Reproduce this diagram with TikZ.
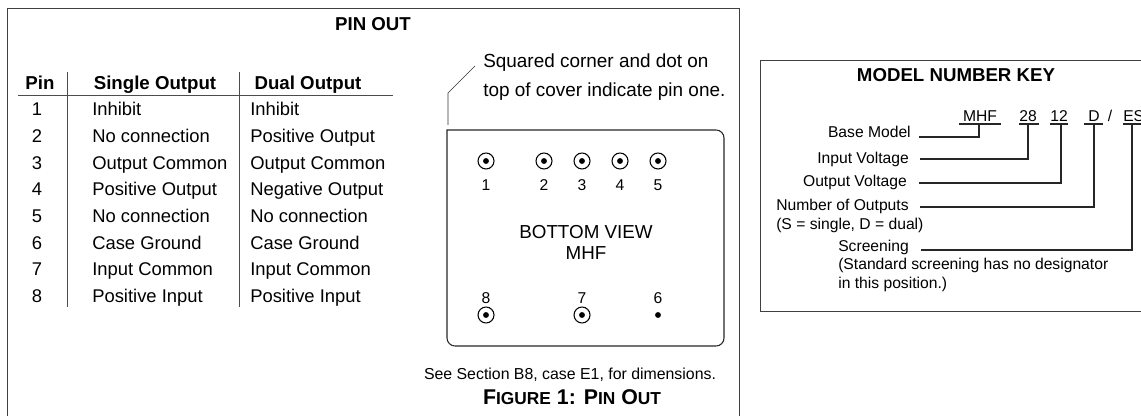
\documentclass[tikz,border=0pt]{standalone}
\usepackage{fontspec}
\setmainfont{Liberation Sans}
\tikzset{
  lbl/.style={inner sep=0pt,text height=9.5pt,text depth=0pt,font=\fontsize{13.8}{15}\selectfont},
  lbll/.style={lbl,anchor=west},
  keylbl/.style={lbl,font=\fontsize{11.75}{13}\selectfont},
  hdr/.style={lbl,font=\fontsize{14}{15}\selectfont\bfseries},
  boxline/.style={line width=0.7pt,draw=black!75},
  tabline/.style={line width=0.7pt,draw=black!70},
  keyline/.style={line width=0.9pt,draw=black!85},
  pinring/.style={circle,draw=black,line width=0.8pt,minimum size=12pt,inner sep=0pt},
  pindot/.style={circle,fill=black,minimum size=4.4pt,inner sep=0pt}
}
\begin{document}
\begin{tikzpicture}[x=0.75pt,y=-0.75pt]
    \useasboundingbox (0,0) rectangle (1141,416);

    % pin out frame
    \coordinate (fa) at (7.5,416);
    \coordinate (fb) at (7.5,8);
    \coordinate (fc) at (739,8);
    \coordinate (fd) at (739,416);
    \draw[boxline] (fa) -- (fb) -- (fc) -- (fd);
    \node[hdr] (title) at (373,24) {PIN OUT};

    % table
    \node[hdr] (hpin) at (40,83) {Pin};
    \node[hdr] (hsingle) at (155,83) {Single Output};
    \node[hdr] (hdual) at (308,83) {Dual Output};

    \coordinate (va) at (67,72);
    \coordinate (vb) at (67,307);
    \coordinate (vc) at (239,72);
    \coordinate (vd) at (239,307);
    \coordinate (ha) at (18,95);
    \coordinate (hb) at (393,95);
    \draw[tabline] (va) -- (vb);
    \draw[tabline] (vc) -- (vd);
    \draw[tabline] (ha) -- (hb);

    \foreach \n/\y/\s/\d in {1/109/Inhibit/Inhibit,
        2/136/No connection/Positive Output,
        3/163/Output Common/Output Common,
        4/189/Positive Output/Negative Output,
        5/216/No connection/No connection,
        6/243/Case Ground/Case Ground,
        7/269/Input Common/Input Common,
        8/296/Positive Input/Positive Input} {
      \node[lbl] (p\n) at (37,\y) {\n};
      \node[lbll] (s\n) at (92,\y) {\s};
      \node[lbll] (d\n) at (250,\y) {\d};
    }

    % bottom view
    \node[lbll,font=\fontsize{14.2}{15}\selectfont] (note1) at (483,61) {Squared corner and dot on};
    \node[lbll,font=\fontsize{14.2}{15}\selectfont] (note2) at (483,90) {top of cover indicate pin one.};
    \coordinate (la) at (475,66);
    \coordinate (lb) at (448,93);
    \coordinate (lc) at (448,125);
    \draw[line width=0.5pt,draw=black!80] (la) -- (lb) -- (lc);

    \coordinate (ba) at (447,130);
    \coordinate (bb) at (724,130);
    \coordinate (bc) at (724,346);
    \coordinate (bd) at (447,346);
    \draw[line width=0.8pt,draw=black!85,rounded corners=6pt,line cap=rect] (ba) -- (bb) -- (bc) -- (bd) -- (ba);

    \foreach \n/\x in {1/486,2/544,3/582,4/620,5/658} {
      \node[pinring] (c\n) at (\x,161) {};
      \node[pindot] at (c\n) {};
      \node[keylbl] (t\n) at (\x,184) {\n};
    }
    \foreach \n/\x in {8/486,7/582} {
      \node[pinring] (c\n) at (\x,315) {};
      \node[pindot] at (c\n) {};
      \node[keylbl] (t\n) at (\x,297) {\n};
    }
    \node[pindot] (c6) at (658,315) {};
    \node[keylbl] (t6) at (658,297) {6};

    \node[lbl,font=\fontsize{14.1}{15}\selectfont] (view1) at (586,232) {BOTTOM VIEW};
    \node[lbl,font=\fontsize{14.1}{15}\selectfont] (view2) at (586,253) {MHF};

    \node[keylbl,font=\fontsize{11.9}{13}\selectfont] (see) at (570,373) {See Section B8, case E1, for dimensions.};
    \node[hdr,font=\fontsize{16}{17}\selectfont\bfseries] (fig) at (572,398) {F{\fontsize{13}{14}\selectfont IGURE} 1: P{\fontsize{13}{14}\selectfont IN} O{\fontsize{13}{14}\selectfont UT}};

    % model number key
    \coordinate (ka) at (1141,60);
    \coordinate (kb) at (760,60);
    \coordinate (kc) at (760,311);
    \coordinate (kd) at (1141,311);
    \draw[boxline] (ka) -- (kb) -- (kc) -- (kd);
    \node[hdr] (keytitle) at (956,75) {MODEL NUMBER KEY};

    \node[keylbl] (mhf) at (980,115) {MHF};
    \node[keylbl] (v28) at (1028,115) {28};
    \node[keylbl] (v12) at (1059,115) {12};
    \node[keylbl] (vd) at (1094,115) {D};
    \node[keylbl] (vs) at (1110,115) {/};
    \node[keylbl,anchor=west] (ves) at (1123,115) {ES};

    \coordinate (u1a) at (959,124);
    \coordinate (u1b) at (1001,124);
    \coordinate (u2a) at (1019,124);
    \coordinate (u2b) at (1039,124);
    \coordinate (u3a) at (1050,124);
    \coordinate (u3b) at (1068,124);
    \coordinate (u4a) at (1084,124);
    \coordinate (u4b) at (1103,124);
    \coordinate (u5a) at (1123,124);
    \coordinate (u5b) at (1141,124);
    \foreach \u in {1,...,5}
      \draw[keyline] (u\u a) -- (u\u b);

    \node[keylbl,anchor=east] (kbase) at (911,131) {Base Model};
    \node[keylbl,anchor=east] (kin) at (909,157) {Input Voltage};
    \node[keylbl,anchor=east] (kout) at (907,180) {Output Voltage};
    \node[keylbl,anchor=west] (knum) at (776,204) {Number of Outputs};
    \node[keylbl,anchor=west] (knum2) at (776,223) {(S = single, D = dual)};
    \node[keylbl,anchor=west] (kscr) at (838,245) {Screening};
    \node[keylbl,anchor=west] (kscr2) at (838,263) {(Standard screening has no designator};
    \node[keylbl,anchor=west] (kscr3) at (838,282) {in this position.)};

    \coordinate (s1) at (919,137);
    \coordinate (s2) at (920,159);
    \coordinate (s3) at (919,183);
    \coordinate (s4) at (920,207);
    \coordinate (s5) at (921,250);
    \coordinate (e1) at (979,124);
    \coordinate (e2) at (1028,124);
    \coordinate (e3) at (1061,124);
    \coordinate (e4) at (1094,124);
    \coordinate (e5) at (1132,124);
    \foreach \u in {1,...,5}
      \draw[keyline] (s\u) -| (e\u);

\end{tikzpicture}
\end{document}
